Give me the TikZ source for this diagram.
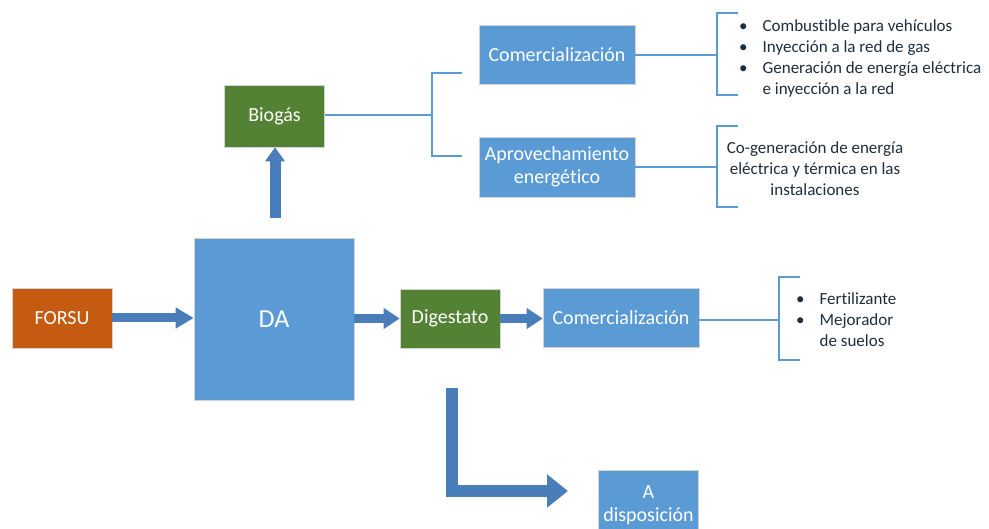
\documentclass[tikz,border=0pt]{standalone}
\usepackage{fontspec}
\setmainfont{Carlito}[Ligatures=NoCommon]
\usetikzlibrary{arrows.meta,calc}
\definecolor{boxblue}{HTML}{5B9BD5}
\definecolor{boxgreen}{HTML}{548235}
\definecolor{boxorange}{HTML}{C55A11}
\definecolor{arrowblue}{HTML}{4A7EBB}
\definecolor{lineblue}{HTML}{5B9BD5}
\definecolor{txtdark}{HTML}{1F2D3D}
\tikzset{
  box/.style={draw=gray!35, line width=0.6pt, text=white, inner sep=0pt, align=center,
    font=\fontsize{20}{23}\selectfont},
  conn/.style={draw=lineblue, line width=1.3pt},
  blockarrow/.style={draw=arrowblue, line width=9pt, -{Triangle[width=20pt,length=18pt]}},
  listtext/.style={text=txtdark, inner sep=0pt, font=\fontsize{17}{21}\selectfont}
}
\begin{document}
\begin{tikzpicture}[x=1pt,y=-1pt]
\useasboundingbox (0,0) rectangle (989,529);
\fill[white] (0,0) rectangle (989,529);

% boxes
\node[box, fill=boxorange, minimum width=100pt, minimum height=60pt] (forsu) at (62,318) {FORSU};
\node[box, fill=boxblue, minimum width=160pt, minimum height=162pt, font=\fontsize{26}{30}\selectfont] (da) at (274,319) {DA};
\node[box, fill=boxgreen, minimum width=100pt, minimum height=59pt] (dig) at (450,318.5) {Digestato};
\node[box, fill=boxblue, minimum width=156pt, minimum height=59pt] (com2) at (621,318) {Comercialización};
\node[box, fill=boxblue, minimum width=100pt, minimum height=70pt] (disp) at (648.5,505) {A\\disposición};
\node[box, fill=boxgreen, minimum width=100pt, minimum height=62pt] (biogas) at (274.5,116) {Biogás};
\node[box, fill=boxblue, minimum width=156pt, minimum height=59pt] (com1) at (557,55) {Comercialización};
\node[box, fill=boxblue, minimum width=156pt, minimum height=60pt] (aprov) at (557,167) {Aprovechamiento\\energético};

% lists
\node[listtext, anchor=west] (list1) at (739,58.5) {%
  \begin{tabular}{@{}l@{\hspace{15pt}}l@{}}
  \textbullet & Combustible para vehículos\\
  \textbullet & Inyección a la red de gas\\
  \textbullet & Generación de energía eléctrica\\
              & e inyección a la red
  \end{tabular}};
\node[listtext, align=center] (cogen) at (815,169) {Co-generación de energía\\eléctrica y térmica en las\\instalaciones};
\node[listtext, anchor=west] (list2) at (796,321) {%
  \begin{tabular}{@{}l@{\hspace{15pt}}l@{}}
  \textbullet & Fertilizante\\
  \textbullet & Mejorador\\
              & de suelos
  \end{tabular}};

% connector lines and brackets
\coordinate (bk1) at (432,115);
\draw[conn] (biogas.east |- bk1) -- (bk1);
\draw[conn] (462,73) -- (432,73) -- (432,156) -- (462,156);

\coordinate (bk2) at (717,55);
\draw[conn] (com1.east |- bk2) -- (bk2);
\draw[conn] (738,13) -- (717,13) -- (717,95) -- (738,95);

\coordinate (bk3) at (717,167);
\draw[conn] (aprov.east |- bk3) -- (bk3);
\draw[conn] (738,126) -- (717,126) -- (717,207) -- (738,207);

\coordinate (bk4) at (779,320);
\draw[conn] (com2.east |- bk4) -- (bk4);
\draw[conn] (800,277) -- (779,277) -- (779,360) -- (800,360);

% block arrows
\draw[blockarrow] (forsu.east) -- (forsu.east -| da.west);
\draw[blockarrow, -{Triangle[width=20pt,length=16pt]}] (da.east |- dig.west) -- (dig.west);
\draw[blockarrow, -{Triangle[width=20pt,length=16pt]}] (dig.east) -- (dig.east -| com2.west);
\coordinate (bgs) at (275,218);
\draw[blockarrow, line width=11pt, -{Triangle[width=19pt,length=14pt]}] (bgs) -- (bgs |- biogas.south);
\coordinate (ls) at (452,388);
\coordinate (le) at (568,491);
\draw[draw=arrowblue, line width=12pt, line join=miter, -{Triangle[width=32pt,length=21pt]}] (ls) |- (le);
\end{tikzpicture}
\end{document}
